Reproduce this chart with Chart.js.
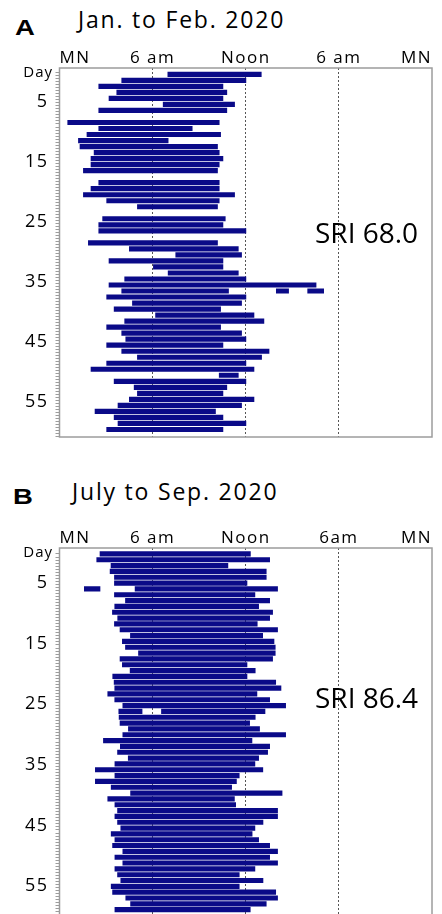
<!DOCTYPE html>
<html>
<head>
<meta charset="utf-8">
<script src="https://cdn.jsdelivr.net/npm/chart.js@4.4.0/dist/chart.umd.min.js"></script>
<style>
  html, body { margin: 0; padding: 0; background: #fff; }
  body { width: 442px; height: 914px; overflow: hidden; position: relative; font-family: 'Open Sans', sans-serif; color: #000; }
  canvas { position: absolute; left: 0; }
  .letter { position: absolute; z-index: 2; font-family: 'Liberation Sans', Arial, sans-serif; font-weight: bold; font-size: 22px; line-height: 22px; transform: scaleX(1.25); transform-origin: left top; }
  .title { position: absolute; z-index: 2; font-size: 23px; line-height: 23px; letter-spacing: 1.8px; white-space: nowrap; }
  .day { position: absolute; z-index: 2; font-size: 15px; line-height: 15px; letter-spacing: 1px; right: 389px; }
  .sri { position: absolute; z-index: 2; font-size: 28px; line-height: 28px; left: 315px; white-space: nowrap; }
</style>
</head>
<body>
<canvas id="chartA" width="442" height="405" style="top:40px"></canvas>
<canvas id="chartB" width="442" height="410" style="top:520px"></canvas>

<div class="letter" style="left:15px; top:17px;">A</div>
<div class="title" style="left:78px; top:8px;">Jan. to Feb. 2020</div>
<div class="day" style="top:64px;">Day</div>
<div class="sri" style="top:218px;">SRI 68.0</div>

<div class="letter" style="left:13px; top:486px;">B</div>
<div class="title" style="left:72px; top:480px;">July to Sep. 2020</div>
<div class="day" style="top:544px;">Day</div>
<div class="sri" style="top:683px;">SRI 86.4</div>

<script>
// hours of the day (0 = midnight), one row per day, null = no sleep recorded
const aStart = [6.98, 4.01, 2.53, 3.69, 3.19, 6.68, 2.53, null, 0.53, 2.53,
                1.77, 1.22, 1.32, 2.23, 2.03, 2.03, 1.54, null, 2.53, 2.03,
                1.54, 3.04, 5.02, null, 2.78, 2.53, 2.53, null, 1.86, 4.5,
                7.49, 3.19, 6.05, 7.0, 4.2, 3.19, 4.01, 3.04, 4.7, 3.52,
                6.19, 4.2, 3.04, 4.01, 4.27, 3.04, 4.01, 5.02, 3.04, 2.03,
                10.29, 3.52, 4.81, 5.02, 4.5, 3.77, 2.29, 3.52, 3.77, 3.04];
const aEnd   = [13.0, 12.01, 10.53, 10.78, 10.53, 11.28, 10.78, null, 10.29, 8.55,
                10.38, 7.0, 10.18, 10.29, 10.53, 10.29, 10.18, null, 10.29, 10.29,
                11.28, 10.29, 10.18, null, 10.68, 10.53, 12.01, null, 10.18, 11.52,
                11.73, 10.53, 10.53, 11.52, 12.01, 16.53, 10.89, 12.01, 11.73, 10.38,
                12.53, 13.17, 10.38, 11.73, 12.01, 10.53, 13.5, 13.02, 12.01, 12.53,
                11.52, 12.01, 10.78, 10.53, 12.53, 11.73, 10.05, 10.53, 12.01, 10.53];
// second / third sleep bouts on the same day
const aExtraRow   = [37, 37];
const aExtraStart = [13.97, 15.99];
const aExtraEnd   = [14.76, 17.02];

const bStart = [2.61, 2.4, 3.32, 3.26, 3.54, 3.54, 4.87, 3.54, 4.25, 3.56,
                3.41, 3.75, 3.54, 3.9, 4.57, 4.05, 4.25, 5.09, 3.9, 4.05,
                4.55, 3.43, 3.52, 3.56, 3.11, 3.56, 4.08, 6.57, 3.84, 3.9,
                4.44, 4.08, 2.83, 3.92, 3.74, 4.43, 3.57, 2.31, 3.57, 2.31,
                3.33, 4.58, 3.11, 3.57, 3.74, 3.57, 3.74, 3.95, 3.33, 3.57,
                3.42, 4.08, 3.57, 4.08, 3.57, 3.74, 3.95, 3.33, 3.42, 4.27,
                4.58, 3.57];
const bEnd   = [12.3, 13.54, 10.85, 13.32, 13.32, 12.08, 14.05, 12.59, 13.54, 12.83,
                13.73, 13.54, 12.74, 14.05, 13.09, 13.82, 13.9, 13.9, 13.73, 12.08,
                12.61, 12.08, 13.93, 14.27, 12.72, 13.54, 14.57, 13.24, 12.61, 12.25,
                12.89, 14.57, 12.4, 13.54, 13.41, 12.83, 12.59, 13.1, 11.58, 11.4,
                11.09, 14.34, 11.27, 11.35, 14.05, 14.05, 13.11, 12.59, 12.41, 12.83,
                13.54, 14.05, 13.54, 14.05, 12.59, 11.58, 13.11, 11.58, 13.93, 14.05,
                13.32, 12.29];
const bExtraRow   = [7, 28];
const bExtraStart = [1.6, 3.82];
const bExtraEnd   = [2.61, 5.32];

const xTickHours  = [0, 6, 12, 18, 24];
const aXLabels    = ['MN', '6 am', 'Noon', '6 am', 'MN'];
const bXLabels    = ['MN', '6 am', 'Noon', '6am', 'MN'];
const yTickDays   = [5, 15, 25, 35, 45, 55];
const yTickLabels = ['5', '15', '25', '35', '45', '55'];

const barColor = '#0a0a88';

function mainBars(starts, ends) {
    const pts = [];
    starts.forEach((s, i) => {
        if (s !== null) pts.push({ x: [s, ends[i]], y: i + 1 });
    });
    return pts;
}

function extraBars(rows, starts, ends) {
    return rows.map((r, i) => ({ x: [starts[i], ends[i]], y: r }));
}

const framePlugin = {
    id: 'frame',
    beforeLayout(chart) { chart.ctx.letterSpacing = '1.5px'; },
    beforeDraw(chart) { chart.ctx.letterSpacing = '1.5px'; },
    afterDatasetsDraw(chart) {
        const { ctx, chartArea: a } = chart;
        ctx.save();
        ctx.strokeStyle = '#9c9c9c';
        ctx.lineWidth = 1.5;
        ctx.strokeRect(a.left, a.top, a.right - a.left, a.bottom - a.top);
        ctx.restore();
    }
};

function makeChart(id, starts, ends, exRows, exStarts, exEnds, xLabels, yMin, yMax, dayShift, dayStep, padBottom) {
    const ctx = document.getElementById(id).getContext('2d');
    return new Chart(ctx, {
        type: 'bar',
        data: {
            datasets: [{
                data: mainBars(starts, ends),
                backgroundColor: barColor,
                barThickness: 4.5,
                grouped: false
            }, {
                data: extraBars(exRows, exStarts, exEnds),
                backgroundColor: barColor,
                barThickness: 4.5,
                grouped: false
            }]
        },
        options: {
            indexAxis: 'y',
            responsive: false,
            animation: false,
            layout: { padding: { left: 0, right: 10, top: 0, bottom: padBottom } },
            plugins: { legend: { display: false }, tooltip: { enabled: false } },
            scales: {
                x: {
                    type: 'linear',
                    position: 'top',
                    min: 0,
                    max: 24,
                    afterFit(s) { s.height = 28; s.paddingLeft = 0; s.paddingRight = 0; },
                    afterBuildTicks(s) { s.ticks = xTickHours.map(v => ({ value: v })); },
                    ticks: {
                        align: 'inner',
                        padding: 0,
                        color: '#000',
                        font: { family: 'Open Sans', size: 17 },
                        callback: (v, i) => xLabels[i]
                    },
                    grid: {
                        drawTicks: false,
                        lineWidth: 1,
                        color: c => (c.tick && (c.tick.value === 0 || c.tick.value === 24)) ? 'rgba(0,0,0,0)' : '#555'
                    },
                    border: { display: false, dash: [2, 2] }
                },
                y: {
                    type: 'linear',
                    reverse: true,
                    bounds: 'data',
                    min: yMin,
                    max: yMax,
                    afterFit(s) { s.width = 59.5; s.paddingTop = 0; s.paddingBottom = 0; },
                    afterBuildTicks(s) {
                        const t = [];
                        for (let d = 0.5; dayShift + dayStep * d <= yMax; d += 0.5) {
                            const k = yTickDays.indexOf(d);
                            t.push({ value: dayShift + dayStep * d, lbl: k >= 0 ? yTickLabels[k] : '' });
                        }
                        s.ticks = t;
                    },
                    ticks: {
                        autoSkip: false,
                        padding: 7,
                        color: '#000',
                        font: { family: 'Open Sans', size: 18 },
                        callback: (v, i, ticks) => ticks[i].lbl
                    },
                    grid: { drawOnChartArea: false, drawTicks: true, tickLength: 4, color: '#9c9c9c' },
                    border: { display: false }
                }
            }
        },
        plugins: [framePlugin]
    });
}

makeChart('chartA', aStart, aEnd, aExtraRow, aExtraStart, aExtraEnd, aXLabels, 0.2, 61.0, 0.5, 1.0, 8);
makeChart('chartB', bStart, bEnd, bExtraRow, bExtraStart, bExtraEnd, bXLabels, 0.25, 63.5, 0.75, 1.04, 10);
</script>
</body>
</html>
